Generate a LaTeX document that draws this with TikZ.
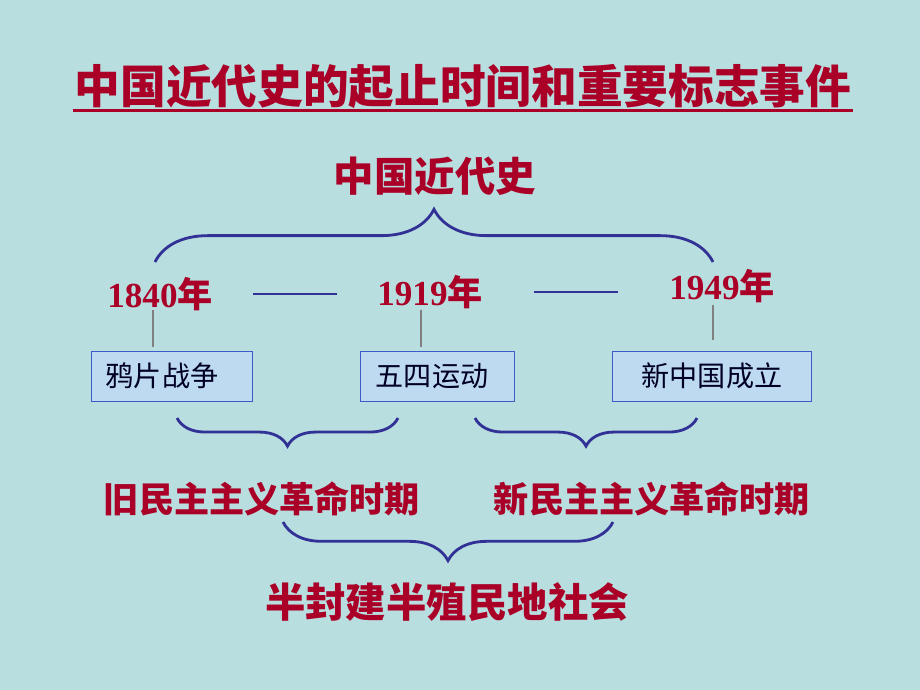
\documentclass[tikz,border=0pt]{standalone}
\usepackage{fontspec}
\setmainfont{Liberation Serif}
\newfontfamily\cjk{Noto Sans CJK SC}
\usetikzlibrary{positioning,decorations.pathreplacing}
\definecolor{bgcyan}{RGB}{184,222,224}
\definecolor{darkred}{RGB}{170,0,40}
\definecolor{braceblue}{RGB}{50,50,150}
\definecolor{boxfill}{RGB}{190,218,240}
\definecolor{boxline}{RGB}{60,90,200}

\begin{document}
\begin{tikzpicture}[
    x=0.02cm, y=-0.02cm,
    year/.style={font=\fontsize{20}{24}\selectfont\bfseries, text=darkred, inner sep=1pt},
    head/.style={font=\cjk\fontsize{23}{27}\selectfont\bfseries, text=darkred, inner sep=1pt},
    period/.style={font=\cjk\fontsize{20}{24}\selectfont\bfseries, text=darkred, inner sep=1pt},
    event/.style={rectangle, draw=boxline, fill=boxfill, minimum height=1cm,
                  font=\cjk\fontsize{16}{18}\selectfont, text=black!85!blue, inner sep=0pt},
    brc/.style={decorate, decoration={brace, amplitude=#1}, draw=braceblue, line width=1.6pt},
    tick/.style={draw=gray, line width=0.6pt},
    yrline/.style={draw=braceblue, line width=1pt},
  ]
  \fill[bgcyan] (0,0) rectangle (920,690);

  % === Title ===
  \node[head, font=\cjk\fontsize{26}{30}\selectfont\bfseries] (title) at (463,86) {中国近代史的起止时间和重要标志事件};
  \draw[darkred, line width=1.8pt] (title.south west) -- (title.south east);

  % === Top ===
  \node[head] (top) at (435,176) {中国近代史};
  \draw[brc=30pt] (155,262) -- (713,262);

  % === Years ===
  \node[year] (y1) at (160,294) {1840{\cjk 年}};
  \node[year] (y2) at (430,292) {1919{\cjk 年}};
  \node[year] (y3) at (722,286) {1949{\cjk 年}};
  \draw[yrline] ([xshift=22pt]y1.east) -- ([xshift=-22pt]y1.east -| y2.west);
  \draw[yrline] ([xshift=28pt]y2.east) -- ([xshift=-28pt]y2.east -| y3.west);

  % === Events ===
  \node[event, minimum width=3.22cm] (e1) at (172,376) {\hspace*{-0.4cm}鸦片战争};
  \node[event, minimum width=3.08cm] (e2) at (437,376) {\hspace*{-0.2cm}五四运动};
  \node[event, minimum width=3.98cm] (e3) at (712,376) {新中国成立};
  \draw[tick] (153,310) -- (153,347);
  \draw[tick] (421,310) -- (421,347);
  \draw[tick] (713,305) -- (713,340);

  % === Periods ===
  \draw[brc=16pt] (398,418) -- (177,418);
  \draw[brc=16pt] (697,418) -- (475,418);
  \node[period] (p1) at (262,499) {旧民主主义革命时期};
  \node[period] (p2) at (652,499) {新民主主义革命时期};

  % === Society ===
  \draw[brc=22pt] (613,522) -- (283,522);
  \node[head] (soc) at (447,602) {半封建半殖民地社会};
\end{tikzpicture}
\end{document}
